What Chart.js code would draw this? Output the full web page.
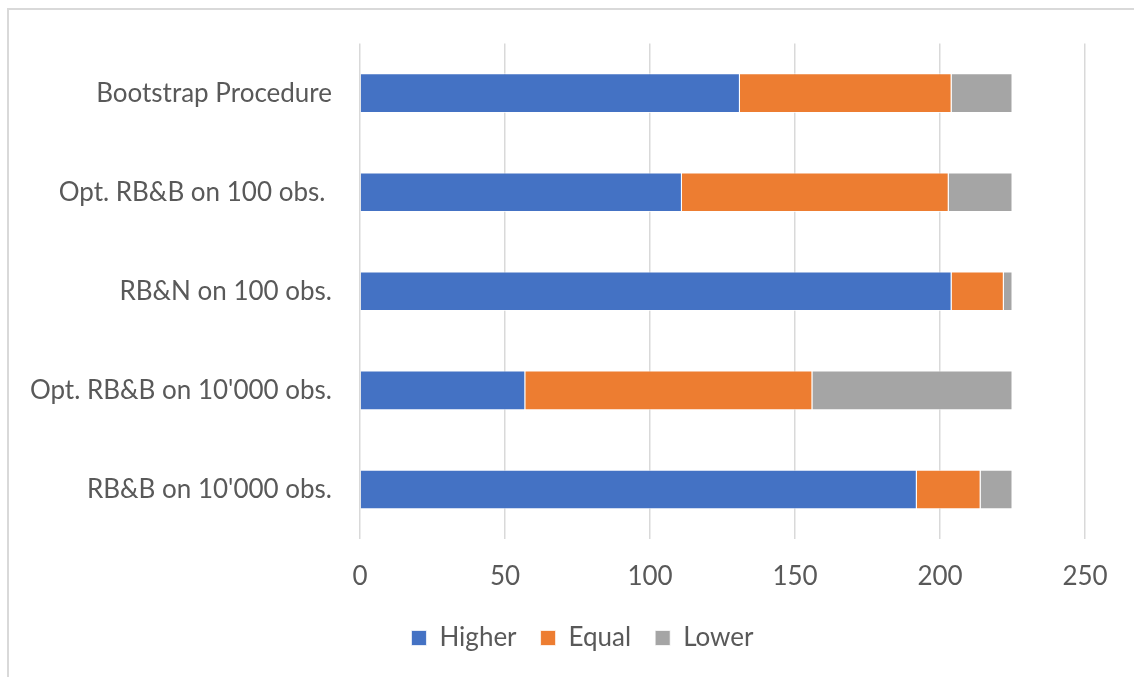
<!DOCTYPE html>
<html>
<head>
<meta charset="utf-8">
<script src="https://cdn.jsdelivr.net/npm/chart.js@4/dist/chart.umd.min.js"></script>
<style>
  html, body { margin: 0; padding: 0; background: #ffffff; }
  #wrap { width: 1134px; height: 677px; position: relative; }
</style>
</head>
<body>
<div id="wrap"><canvas id="c" width="1134" height="677"></canvas></div>
<script>
const categories = ["Bootstrap Procedure", "Opt. RB&B on 100 obs. ", "RB&N on 100 obs.", "Opt. RB&B on 10'000 obs.", "RB&B on 10'000 obs."];
const higher = [131, 111, 204, 57, 192];
const equal  = [73, 92, 18, 99, 22];
const lower  = [21, 22, 3, 69, 11];
const seriesNames = ["Higher", "Equal", "Lower"];
const xTicks = [0, 50, 100, 150, 200, 250];

const FONT = "Lato";
const TEXT = "#595959";

const frame = {
  id: 'frame',
  beforeDraw(chart) {
    const ctx = chart.ctx;
    ctx.save();
    ctx.fillStyle = '#ffffff';
    ctx.fillRect(0, 0, chart.width, chart.height);
    ctx.strokeStyle = '#D9D9D9';
    ctx.lineWidth = 2;
    ctx.strokeRect(8, 9, chart.width + 20, chart.height + 20);
    ctx.restore();
  }
};
const legendShift = {
  id: 'legendShift',
  afterLayout(chart) {
    const lg = chart.legend;
    if (lg) { lg.left += 40; lg.right += 40; }
  }
};

new Chart(document.getElementById('c'), {
  type: 'bar',
  data: {
    labels: categories,
    datasets: [
      { label: seriesNames[0], data: higher, backgroundColor: '#4472C4' },
      { label: seriesNames[1], data: equal, backgroundColor: '#ED7D31' },
      { label: seriesNames[2], data: lower, backgroundColor: '#A5A5A5' }
    ].map(d => Object.assign(d, { borderColor: 'rgba(255,255,255,0.7)', borderWidth: 1, categoryPercentage: 1, barPercentage: 0.4 }))
  },
  options: {
    indexAxis: 'y',
    responsive: false,
    animation: false,
    layout: { padding: { top: 43, right: 49, bottom: 16, left: 0 } },
    scales: {
      x: {
        stacked: true,
        min: 0, max: 250,
        afterBuildTicks(scale) { scale.ticks = xTicks.map(v => ({ value: v })); },
        afterFit(scale) { scale.height = 62; },
        grid: { color: '#D9D9D9', lineWidth: 1.5, drawTicks: false },
        border: { display: false },
        ticks: { color: TEXT, font: { family: FONT, size: 26 }, padding: 22, maxRotation: 0 }
      },
      y: {
        stacked: true,
        afterFit(scale) { scale.width = 360; },
        grid: { display: false, drawTicks: false },
        border: { display: false },
        ticks: { color: TEXT, font: { family: FONT, size: 26 }, padding: 28 }
      }
    },
    plugins: {
      legend: {
        position: 'bottom',
        labels: { color: TEXT, font: { family: FONT, size: 26 }, boxWidth: 15, boxHeight: 15, padding: 24 }
      },
      tooltip: { enabled: false }
    }
  },
  plugins: [frame, legendShift]
});
</script>
</body>
</html>
